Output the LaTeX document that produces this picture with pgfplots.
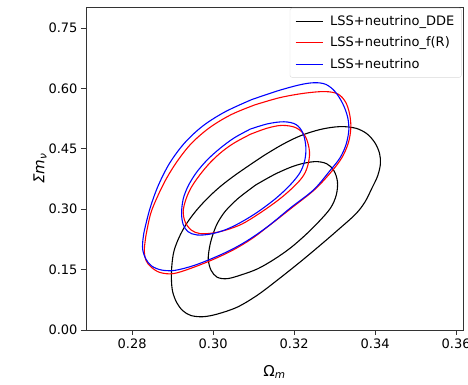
\documentclass[border=0pt]{standalone}
\usepackage{pgfplots}
\pgfplotsset{compat=1.18}
\usepackage{fontspec}
\setmainfont{DejaVu Sans}

\begin{document}
\begin{tikzpicture}
\begin{axis}[
    scale only axis,
    width=377pt, height=323pt,
    xmin=0.2686, xmax=0.3617,
    ymin=0, ymax=0.802,
    xtick={0.28,0.30,0.32,0.34,0.36},
    ytick={0,0.15,0.30,0.45,0.60,0.75},
    /pgf/number format/.cd, fixed, fixed zerofill, precision=2, assume math mode=true,
    /pgfplots/.cd,
    tick align=outside,
    major tick length=5pt,
    xtick pos=bottom, ytick pos=left,
    axis line style={black!80, line width=0.8pt},
    tick style={black!80, line width=0.8pt},
    tick label style={font=\fontsize{13}{15}\selectfont},
    label style={font=\fontsize{15}{17}\selectfont},
    xlabel={Ω\textsubscript{\textit{m}}},
    ylabel={\textit{Σm}\textsubscript{\textit{ν}}},
    xlabel style={yshift=-10pt},
    ylabel style={yshift=-5pt},
    legend style={at={(1,1)}, anchor=north east, xshift=-1.5pt, yshift=-1pt,
        draw=black!15, rounded corners=2pt, font=\fontsize{13}{15}\selectfont,
        inner xsep=5pt, inner ysep=5.5pt, row sep=6pt, column sep=5pt},
    legend cell align=left,
    legend image code/.code={\draw[#1, line width=1.2pt] (0pt,0pt) -- (27pt,0pt);},
    every axis plot/.append style={line width=1.1pt, smooth, tension=0.55},
]

% DDE, 2 sigma
\addplot[black] coordinates {
(0.3125,0.4330) (0.3170,0.4600) (0.3215,0.4820) (0.3265,0.4980) (0.3313,0.5050)
(0.3352,0.5010) (0.3380,0.4870) (0.3400,0.4640) (0.3411,0.4380) (0.3413,0.4120)
(0.3406,0.3820) (0.3392,0.3520) (0.3375,0.3180) (0.3352,0.2880) (0.3310,0.2500)
(0.3265,0.2110) (0.3215,0.1690) (0.3160,0.1250) (0.3110,0.0870) (0.3060,0.0570)
(0.3010,0.0395) (0.2975,0.0330) (0.2945,0.0360) (0.2925,0.0480) (0.2910,0.0680)
(0.2900,0.0950) (0.2897,0.1250) (0.2898,0.1600) (0.2903,0.1950) (0.2915,0.2280)
(0.2933,0.2620) (0.2957,0.2950) (0.2985,0.3260) (0.3015,0.3540) (0.3048,0.3800)
(0.3085,0.4060) (0.3125,0.4330)
};
\addlegendentry{LSS+neutrino\_DDE}
% DDE, 1 sigma
\addplot[black, forget plot] coordinates {
(0.3105,0.3600) (0.3155,0.3880) (0.3205,0.4090) (0.3250,0.4180) (0.3280,0.4130)
(0.3298,0.3960) (0.3307,0.3680) (0.3304,0.3350) (0.3290,0.3030) (0.3262,0.2700)
(0.3228,0.2360) (0.3190,0.2030) (0.3150,0.1750) (0.3110,0.1520) (0.3070,0.1370)
(0.3035,0.1275) (0.3010,0.1310) (0.2995,0.1480) (0.2988,0.1750) (0.2991,0.2050)
(0.2998,0.2330) (0.3010,0.2640) (0.3030,0.2950) (0.3062,0.3270) (0.3105,0.3600)
};

% f(R), 2 sigma
\addplot[red] coordinates {
(0.3103,0.5590) (0.3165,0.5770) (0.3226,0.5880) (0.3276,0.5920) (0.3308,0.5860)
(0.3327,0.5660) (0.3337,0.5360) (0.3340,0.5020) (0.3334,0.4650) (0.3318,0.4280)
(0.3292,0.3930) (0.3250,0.3480) (0.3195,0.3040) (0.3142,0.2620) (0.3096,0.2270)
(0.3050,0.1990) (0.3002,0.1760) (0.2950,0.1550) (0.2902,0.1400) (0.2868,0.1430)
(0.2846,0.1570) (0.2834,0.1730) (0.2830,0.1950) (0.2832,0.2200) (0.2836,0.2450)
(0.2846,0.2900) (0.2862,0.3300) (0.2884,0.3750) (0.2912,0.4200) (0.2947,0.4640)
(0.2992,0.5030) (0.3045,0.5350) (0.3103,0.5590)
};
\addlegendentry{LSS+neutrino\_f(R)}
% f(R), 1 sigma
\addplot[red, forget plot] coordinates {
(0.3092,0.4860) (0.3133,0.5010) (0.3170,0.5080) (0.3205,0.5020) (0.3228,0.4800)
(0.3238,0.4420) (0.3233,0.4060) (0.3220,0.3790) (0.3194,0.3510) (0.3160,0.3220)
(0.3115,0.2900) (0.3071,0.2630) (0.3031,0.2480) (0.2997,0.2405) (0.2967,0.2395)
(0.2946,0.2480) (0.2931,0.2680) (0.2926,0.2950) (0.2933,0.3250) (0.2946,0.3540)
(0.2967,0.3850) (0.2993,0.4160) (0.3022,0.4430) (0.3053,0.4650) (0.3092,0.4860)
};

% no extension, 2 sigma
\addplot[blue] coordinates {
(0.3095,0.5720) (0.3160,0.5940) (0.3215,0.6090) (0.3250,0.6140) (0.3278,0.6100)
(0.3301,0.5920) (0.3320,0.5620) (0.3332,0.5290) (0.3335,0.4960) (0.3328,0.4600)
(0.3313,0.4270) (0.3288,0.3950) (0.3248,0.3480) (0.3192,0.3040) (0.3140,0.2610)
(0.3094,0.2280) (0.3050,0.2020) (0.3003,0.1800) (0.2952,0.1600) (0.2905,0.1480)
(0.2872,0.1490) (0.2848,0.1590) (0.2834,0.1760) (0.2826,0.2000) (0.2827,0.2280)
(0.2832,0.2550) (0.2845,0.3050) (0.2865,0.3600) (0.2893,0.4150) (0.2930,0.4650)
(0.2975,0.5070) (0.3030,0.5420) (0.3095,0.5720)
};
\addlegendentry{LSS+neutrino}
% no extension, 1 sigma
\addplot[blue, forget plot] coordinates {
(0.3092,0.4990) (0.3135,0.5120) (0.3175,0.5170) (0.3205,0.5100) (0.3222,0.4880)
(0.3229,0.4540) (0.3226,0.4200) (0.3214,0.3900) (0.3190,0.3600) (0.3155,0.3270)
(0.3110,0.2930) (0.3066,0.2660) (0.3028,0.2480) (0.2992,0.2380) (0.2960,0.2360)
(0.2938,0.2440) (0.2926,0.2620) (0.2922,0.2900) (0.2926,0.3250) (0.2938,0.3570)
(0.2958,0.3900) (0.2985,0.4220) (0.3017,0.4510) (0.3052,0.4770) (0.3092,0.4990)
};
\end{axis}
\pgfresetboundingbox
\path ([shift={(-86pt,-55pt)}]current axis.south west) rectangle ([shift={(5pt,7pt)}]current axis.north east);
\end{tikzpicture}
\end{document}
